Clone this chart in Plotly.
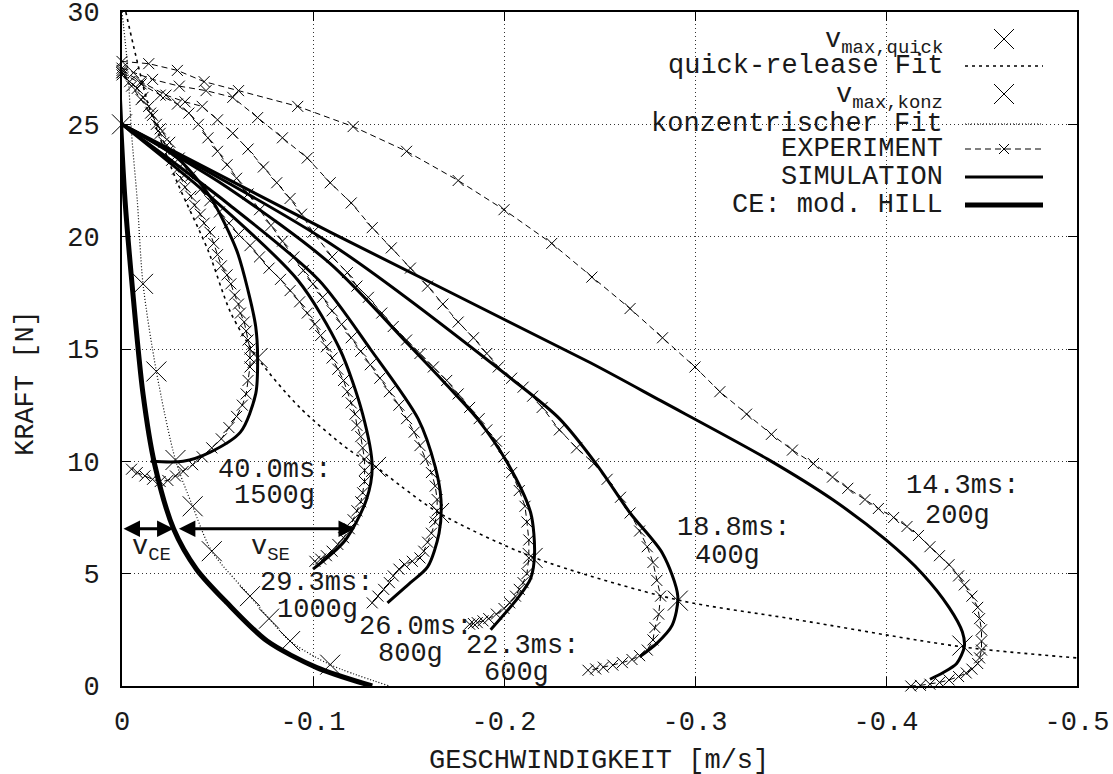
import plotly.graph_objects as go

FONT = "Liberation Mono"

# ---------------- axis ticks ----------------
x_tick_vals = [0, -0.1, -0.2, -0.3, -0.4, -0.5]
x_tick_text = ["0", "-0.1", "-0.2", "-0.3", "-0.4", "-0.5"]
y_tick_vals = [0, 5, 10, 15, 20, 25, 30]
y_tick_text = ["0", "5", "10", "15", "20", "25", "30"]

# ---------------- EXPERIMENT curves (v [m/s], F [N]) ----------------
exp200_v = [0, -0.014, -0.029, -0.043, -0.061, -0.092, -0.121, -0.149, -0.176, -0.200, -0.225, -0.246, -0.266, -0.283, -0.300, -0.313, -0.327, -0.340, -0.351, -0.362, -0.372, -0.380, -0.389, -0.396, -0.404, -0.411, -0.417, -0.423, -0.428, -0.433, -0.438, -0.441, -0.445, -0.448, -0.449, -0.450, -0.450, -0.450, -0.449, -0.448, -0.445, -0.442, -0.438, -0.433, -0.428, -0.423, -0.418, -0.413]
exp200_f = [27.8, 27.7, 27.4, 26.9, 26.5, 25.8, 24.9, 23.8, 22.5, 21.2, 19.7, 18.2, 16.8, 15.5, 14.2, 13.1, 12.1, 11.2, 10.5, 9.9, 9.3, 8.8, 8.3, 7.9, 7.5, 7.1, 6.7, 6.2, 5.8, 5.4, 4.9, 4.5, 4.0, 3.5, 3.0, 2.5, 2.0, 1.6, 1.25, 1.0, 0.75, 0.58, 0.42, 0.27, 0.16, 0.08, 0.03, 0.0]

exp400_v = [0, -0.006, -0.016, -0.030, -0.044, -0.058, -0.071, -0.084, -0.097, -0.109, -0.120, -0.131, -0.141, -0.151, -0.160, -0.168, -0.176, -0.184, -0.191, -0.197, -0.204, -0.210, -0.215, -0.220, -0.229, -0.238, -0.247, -0.254, -0.261, -0.266, -0.271, -0.275, -0.278, -0.280, -0.282, -0.281, -0.279, -0.278, -0.275, -0.271, -0.267, -0.262, -0.257, -0.252, -0.248, -0.244]
exp400_f = [27.5, 27.3, 27.0, 26.7, 26.5, 26.2, 25.3, 24.4, 23.5, 22.4, 21.5, 20.4, 19.5, 18.6, 17.8, 17.0, 16.2, 15.5, 14.8, 14.2, 13.7, 13.3, 12.9, 12.4, 11.4, 10.6, 9.9, 9.2, 8.4, 7.7, 6.9, 6.2, 5.5, 4.7, 4.0, 3.2, 2.6, 2.05, 1.6, 1.35, 1.18, 1.04, 0.93, 0.84, 0.76, 0.7]

exp600_v = [0, -0.010, -0.023, -0.033, -0.042, -0.050, -0.058, -0.066, -0.074, -0.081, -0.088, -0.094, -0.100, -0.110, -0.118, -0.123, -0.129, -0.136, -0.142, -0.149, -0.156, -0.163, -0.170, -0.176, -0.182, -0.187, -0.191, -0.196, -0.200, -0.204, -0.208, -0.211, -0.212, -0.213, -0.213, -0.212, -0.210, -0.208, -0.206, -0.203, -0.200, -0.196, -0.192, -0.189, -0.186, -0.184, -0.182]
exp600_f = [27.4, 26.9, 26.3, 26.0, 25.8, 25.2, 24.6, 23.9, 23.1, 22.4, 21.7, 21.0, 20.2, 19.1, 18.4, 17.8, 17.3, 16.6, 16.0, 15.4, 14.8, 14.2, 13.6, 13.0, 12.4, 11.9, 11.4, 10.9, 10.2, 9.5, 8.7, 8.0, 7.3, 6.5, 5.7, 5.0, 4.6, 4.3, 4.0, 3.7, 3.45, 3.2, 3.0, 2.9, 2.82, 2.78, 2.75]

exp800_v = [0, -0.010, -0.020, -0.029, -0.035, -0.040, -0.045, -0.050, -0.055, -0.060, -0.066, -0.072, -0.078, -0.084, -0.090, -0.095, -0.100, -0.105, -0.110, -0.115, -0.120, -0.125, -0.130, -0.135, -0.140, -0.145, -0.149, -0.153, -0.156, -0.159, -0.162, -0.164, -0.165, -0.165, -0.164, -0.162, -0.160, -0.158, -0.156, -0.152, -0.148, -0.145, -0.142, -0.140, -0.137, -0.134, -0.131]
exp800_f = [27.3, 26.8, 26.3, 25.9, 25.5, 25.0, 24.4, 23.8, 23.2, 22.6, 21.9, 21.2, 20.5, 19.8, 19.1, 18.5, 17.9, 17.3, 16.7, 16.1, 15.5, 14.9, 14.3, 13.7, 13.1, 12.5, 11.9, 11.3, 10.7, 10.1, 9.5, 8.9, 8.3, 7.8, 7.3, 6.8, 6.4, 6.0, 5.7, 5.55, 5.4, 5.2, 4.9, 4.6, 4.3, 4.0, 3.7]

exp1000_v = [0, -0.005, -0.010, -0.015, -0.020, -0.025, -0.030, -0.036, -0.041, -0.046, -0.051, -0.056, -0.061, -0.067, -0.072, -0.077, -0.083, -0.088, -0.093, -0.097, -0.101, -0.104, -0.107, -0.110, -0.113, -0.116, -0.118, -0.120, -0.122, -0.123, -0.125, -0.126, -0.127, -0.127, -0.127, -0.126, -0.125, -0.123, -0.121, -0.119, -0.116, -0.113, -0.110, -0.107, -0.104, -0.101]
exp1000_f = [27.2, 26.7, 26.1, 25.5, 24.8, 24.2, 23.5, 22.7, 22.1, 21.6, 21.1, 20.6, 20.1, 19.6, 19.1, 18.6, 18.1, 17.6, 17.1, 16.6, 16.1, 15.6, 15.1, 14.6, 14.1, 13.6, 13.1, 12.6, 12.1, 11.6, 11.1, 10.6, 10.1, 9.6, 9.1, 8.6, 8.2, 7.8, 7.4, 7.0, 6.6, 6.3, 6.0, 5.8, 5.65, 5.55]

exp1500_v = [0, -0.004, -0.008, -0.011, -0.014, -0.016, -0.018, -0.020, -0.022, -0.024, -0.026, -0.029, -0.031, -0.033, -0.036, -0.038, -0.041, -0.043, -0.046, -0.048, -0.050, -0.052, -0.055, -0.057, -0.059, -0.061, -0.062, -0.064, -0.065, -0.066, -0.067, -0.067, -0.067, -0.066, -0.065, -0.063, -0.060, -0.056, -0.052, -0.047, -0.042, -0.037, -0.032, -0.028, -0.024, -0.020, -0.016, -0.012, -0.008, -0.005]
exp1500_f = [27.3, 26.9, 26.6, 26.2, 25.8, 25.4, 25.0, 24.6, 24.2, 23.8, 23.4, 23.0, 22.6, 22.2, 21.8, 21.4, 21.0, 20.6, 20.2, 19.7, 19.2, 18.7, 18.3, 17.9, 17.4, 17.0, 16.6, 16.2, 15.8, 15.4, 15.0, 14.6, 14.2, 13.6, 13.0, 12.5, 12.0, 11.5, 11.0, 10.6, 10.2, 9.85, 9.55, 9.35, 9.15, 9.1, 9.2, 9.35, 9.5, 9.65]

# ---------------- SIMULATION curves ----------------
sim200_v = [0, -0.109, -0.245, -0.282, -0.338, -0.372, -0.400, -0.419, -0.433, -0.440, -0.441, -0.437, -0.430, -0.423]
sim200_f = [25, 20.2, 14.4, 12.7, 10.1, 8.3, 6.5, 5.0, 3.5, 2.4, 1.75, 1.0, 0.6, 0.3]

sim400_v = [0, -0.109, -0.205, -0.229, -0.249, -0.266, -0.283, -0.291, -0.288, -0.280, -0.271]
sim400_f = [25, 19.7, 13.6, 11.9, 9.8, 7.7, 5.9, 4.0, 2.7, 1.9, 1.3]

sim600_v = [0, -0.055, -0.109, -0.150, -0.170, -0.186, -0.202, -0.214, -0.216, -0.214, -0.208, -0.193]
sim600_f = [25, 22.2, 18.8, 15.2, 13.4, 11.9, 9.9, 7.7, 5.9, 4.8, 4.0, 2.5]

sim800_v = [0, -0.055, -0.103, -0.130, -0.155, -0.164, -0.167, -0.166, -0.160, -0.151, -0.139]
sim800_f = [25, 21.5, 18.07, 15.0, 11.9, 9.75, 8.3, 6.8, 5.3, 4.6, 3.7]

sim1000_v = [0, -0.046, -0.092, -0.114, -0.126, -0.131, -0.128, -0.117, -0.100]
sim1000_f = [25, 21.8, 18.07, 15.0, 12.1, 9.75, 8.3, 6.5, 5.2]

sim1500_v = [0, -0.029, -0.046, -0.060, -0.066, -0.070, -0.071, -0.070, -0.062, -0.046, -0.032, -0.015]
sim1500_f = [25, 23.5, 21.8, 19.4, 17.6, 16.0, 14.6, 13.0, 11.3, 10.4, 10.0, 10.0]

# ---------------- CE: mod. HILL ----------------
hill_v = [0.0016, 0.0007, -0.0016, -0.006, -0.011, -0.017, -0.027, -0.039, -0.055, -0.076, -0.102, -0.131]
hill_f = [26.66, 25, 21.6, 17.2, 13.0, 9.9, 7.0, 5.2, 3.7, 2.0, 0.82, 0.0]

# ---------------- fits and v_max points ----------------
quick_fit_v = [-0.002, -0.006, -0.013, -0.019, -0.029, -0.045, -0.057, -0.071, -0.093, -0.119, -0.133, -0.146, -0.166, -0.215, -0.291, -0.350, -0.440, -0.500]
quick_fit_f = [30, 28.5, 26.1, 24.6, 22.4, 19.4, 16.6, 14.6, 12.4, 10.5, 9.75, 8.9, 7.7, 5.74, 3.83, 3.0, 1.74, 1.25]

konz_fit_v = [0, -0.003, -0.005, -0.008, -0.011, -0.018, -0.028, -0.037, -0.047, -0.067, -0.077, -0.088, -0.109, -0.140]
konz_fit_f = [30, 27.5, 24.6, 21.6, 17.9, 14.0, 10.06, 8.0, 6.0, 4.0, 3.0, 2.0, 0.95, 0.0]

vmax_quick_v = [0, -0.071, -0.133, -0.166, -0.215, -0.291, -0.440]
vmax_quick_f = [25, 14.6, 9.75, 7.7, 5.7, 3.8, 1.8]

vmax_konz_v = [-0.011, -0.018, -0.028, -0.037, -0.047, -0.067, -0.077, -0.088, -0.109]
vmax_konz_f = [17.9, 14.0, 10.06, 8.0, 6.0, 4.0, 3.0, 2.0, 0.95]

# ---------------- labels ----------------
label_line1 = ["40.0ms:", "29.3ms:", "26.0ms:", "22.3ms:", "18.8ms:", "14.3ms:"]
label_line2 = ["1500g", "1000g", "800g", "600g", "400g", "200g"]
label1_v = [-0.0796, -0.1016, -0.1539, -0.2099, -0.3199, -0.4403]
label1_f = [9.61, 4.58, 2.63, 1.78, 7.03, 8.90]
label2_v = [-0.0801, -0.1026, -0.1513, -0.2068, -0.3168, -0.4372]
label2_f = [8.46, 3.38, 1.42, 0.58, 5.79, 7.57]

# v_CE / v_SE arrows at F = 7 N
arrow_f = 7.0
arrow_start_v = [0.0, -0.029]
arrow_end_v = [-0.027, -0.122]
arrow_text = ["v<sub>CE</sub>", "v<sub>SE</sub>"]
arrow_text_v = [-0.0157, -0.078]
arrow_text_f = 6.12

TXT = "#1a1a1a"
fig = go.Figure()


def add_line(v, f, width, dash="solid", smooth=True):
    fig.add_trace(go.Scatter(
        x=v, y=f, mode="lines",
        line=dict(color="black", width=width, dash=dash,
                  shape="spline" if smooth else "linear", smoothing=0.8),
        showlegend=False, hoverinfo="skip", cliponaxis=True))


def add_exp(v, f):
    fig.add_trace(go.Scatter(
        x=v, y=f, mode="lines+markers",
        line=dict(color="black", width=1, dash="6px,4px"),
        marker=dict(symbol="x-thin", size=11, line=dict(width=1, color="black")),
        showlegend=False, hoverinfo="skip", cliponaxis=False))


def add_big_x(v, f):
    fig.add_trace(go.Scatter(
        x=v, y=f, mode="markers",
        marker=dict(symbol="x-thin", size=20, line=dict(width=1, color="black")),
        showlegend=False, hoverinfo="skip", cliponaxis=False))


# fits
add_line(quick_fit_v, quick_fit_f, 1.6, "3px,4px")
add_line(konz_fit_v, konz_fit_f, 1.2, "1px,2px")

# experiments
for v, f in [(exp200_v, exp200_f), (exp400_v, exp400_f), (exp600_v, exp600_f),
             (exp800_v, exp800_f), (exp1000_v, exp1000_f), (exp1500_v, exp1500_f)]:
    add_exp(v, f)

# simulations
for v, f in [(sim200_v, sim200_f), (sim400_v, sim400_f), (sim600_v, sim600_f),
             (sim800_v, sim800_f), (sim1000_v, sim1000_f), (sim1500_v, sim1500_f)]:
    add_line(v, f, 3)

# Hill
add_line(hill_v, hill_f, 5)

# v_max markers
add_big_x(vmax_quick_v, vmax_quick_f)
add_big_x(vmax_konz_v, vmax_konz_f)

annotations = []
for t, v, f in zip(label_line1, label1_v, label1_f):
    annotations.append(dict(x=v, y=f, xref="x", yref="y", text=t, showarrow=False,
                            xanchor="center", yanchor="middle",
                            font=dict(family=FONT, size=27, color=TXT)))
for t, v, f in zip(label_line2, label2_v, label2_f):
    annotations.append(dict(x=v, y=f, xref="x", yref="y", text=t, showarrow=False,
                            xanchor="center", yanchor="middle",
                            font=dict(family=FONT, size=27, color=TXT)))

for s, e in zip(arrow_start_v, arrow_end_v):
    annotations.append(dict(x=e, y=arrow_f, ax=s, ay=arrow_f, xref="x", yref="y",
                            axref="x", ayref="y", text="", showarrow=True,
                            arrowhead=2, startarrowhead=2, arrowside="end+start",
                            arrowwidth=3, arrowsize=1.1, startarrowsize=1.1,
                            arrowcolor="black", standoff=0, startstandoff=0))
for t, v in zip(arrow_text, arrow_text_v):
    annotations.append(dict(x=v, y=arrow_text_f, xref="x", yref="y", text=t,
                            showarrow=False, xanchor="center", yanchor="middle",
                            font=dict(family=FONT, size=27, color=TXT)))

# ---------------- key (gnuplot style, opaque) ----------------
PL, PR, PT, PB = 122, 1077, 12, 686


def fx(px):
    return (px - PL) / (PR - PL)


def fy(py):
    return (PB - py) / (PB - PT)


key_rows = [42, 66, 97, 124, 149, 177, 205]
key_texts = ["v<sub>max,quick</sub>", "quick-release Fit", "v<sub>max,konz</sub>",
             "konzentrischer Fit", "EXPERIMENT", "SIMULATION", "CE: mod. HILL"]
key_text_right = 945
key_s0, key_s1 = 965, 1043
key_mid = 1004

shapes = [dict(type="rect", xref="paper", yref="paper", x0=fx(643), x1=fx(1055),
               y0=fy(222), y1=fy(PT), fillcolor="white", line=dict(width=0),
               layer="between")]

for t, r in zip(key_texts, key_rows):
    annotations.append(dict(x=fx(key_text_right), y=fy(r), xref="paper", yref="paper",
                            text=t, showarrow=False, xanchor="right", yanchor="middle",
                            font=dict(family=FONT, size=27, color=TXT)))


def key_x(py, half_px, width=1):
    x0, x1 = fx(key_mid - half_px), fx(key_mid + half_px)
    y0, y1 = fy(py + half_px), fy(py - half_px)
    shapes.append(dict(type="line", xref="paper", yref="paper", x0=x0, x1=x1, y0=y0, y1=y1,
                       line=dict(color="black", width=width), layer="above"))
    shapes.append(dict(type="line", xref="paper", yref="paper", x0=x0, x1=x1, y0=y1, y1=y0,
                       line=dict(color="black", width=width), layer="above"))


def key_line(py, width, dash):
    shapes.append(dict(type="line", xref="paper", yref="paper", x0=fx(key_s0), x1=fx(key_s1),
                       y0=fy(py), y1=fy(py), line=dict(color="black", width=width, dash=dash),
                       layer="above"))


key_x(key_rows[0] - 3, 10)
key_line(key_rows[1], 1.6, "3px,4px")
key_x(key_rows[2] - 3, 10)
key_line(key_rows[3], 1.2, "1px,2px")
key_line(key_rows[4], 1, "6px,4px")
key_x(key_rows[4], 5)
key_line(key_rows[5], 3, "solid")
key_line(key_rows[6], 5, "solid")

# axis titles
annotations.append(dict(x=fx(599), y=fy(761), xref="paper", yref="paper",
                        text="GESCHWINDIGKEIT [m/s]", showarrow=False,
                        xanchor="center", yanchor="middle",
                        font=dict(family=FONT, size=27, color=TXT)))
annotations.append(dict(x=fx(26), y=fy(383), xref="paper", yref="paper",
                        text="KRAFT [N]", showarrow=False, textangle=-90,
                        xanchor="center", yanchor="middle",
                        font=dict(family=FONT, size=27, color=TXT)))

axis_common = dict(
    showline=True, linecolor="black", linewidth=2, mirror="ticks",
    ticks="inside", ticklen=9, tickwidth=1, tickcolor="black",
    showgrid=True, gridcolor="#333", gridwidth=1, griddash="1px,3px",
    zeroline=False, automargin=False, ticklabeloverflow="allow",
    tickfont=dict(family=FONT, size=27, color=TXT),
)

fig.update_layout(
    width=1113, height=774,
    margin=dict(l=PL, r=1113 - PR, t=PT, b=774 - PB, autoexpand=False),
    paper_bgcolor="white", plot_bgcolor="white",
    showlegend=False,
    xaxis=dict(range=[0, -0.5], tickvals=x_tick_vals, ticktext=x_tick_text,
               ticklabelstandoff=10, **axis_common),
    yaxis=dict(range=[0, 30], tickvals=y_tick_vals, ticktext=y_tick_text,
               ticklabelstandoff=15, **axis_common),
    annotations=annotations,
    shapes=shapes,
)

fig.write_html("out.html")
